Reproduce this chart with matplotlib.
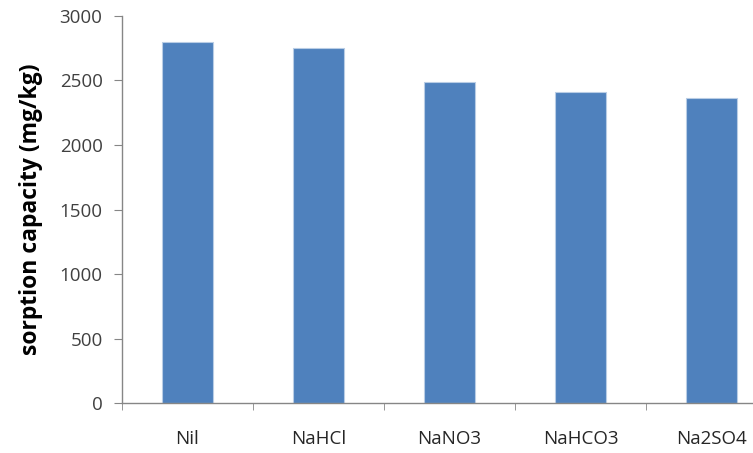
"""Bar chart of sorption capacity under different sodium salts."""

import matplotlib
matplotlib.use("Agg")
import matplotlib.pyplot as plt
import numpy as np

salts = ["Nil", "NaHCl", "NaNO3", "NaHCO3", "Na2SO4"]
capacity = [2800, 2750, 2490, 2410, 2360]
y_ticks = [0, 500, 1000, 1500, 2000, 2500, 3000]

plt.rcParams["font.family"] = ["Open Sans", "DejaVu Sans"]

fig = plt.figure(figsize=(7.53, 4.53), dpi=100)
ax = fig.add_axes([0.162, 0.110, 0.870, 0.855])

x = np.arange(len(salts))
ax.bar(x, capacity, width=0.39, color="#4F81BD", edgecolor="#B9CDE5", linewidth=0.8)

ax.set_xlim(-0.5, len(salts) - 0.5)
ax.set_ylim(0, 3000)
ax.set_yticks(y_ticks)
ax.set_yticklabels([str(v) for v in y_ticks], fontsize=13.5, color="#404040")

ax.set_xticks(x)
ax.set_xticklabels(salts, fontsize=13.5, color="#262626")
ax.set_xticks(np.arange(len(salts) + 1) - 0.5, minor=True)
ax.tick_params(axis="x", which="major", length=0, pad=19)
ax.tick_params(axis="x", which="minor", length=5, color="#868686", direction="out")
ax.tick_params(axis="y", length=6, color="#868686", direction="out", pad=8)

ax.set_ylabel("sorption capacity (mg/kg)", fontsize=16.5, fontweight="bold", labelpad=12)

for side in ("top", "right"):
    ax.spines[side].set_visible(False)
for side in ("left", "bottom"):
    ax.spines[side].set_color("#868686")
    ax.spines[side].set_linewidth(1.0)

fig.savefig("out.png", dpi=100)
